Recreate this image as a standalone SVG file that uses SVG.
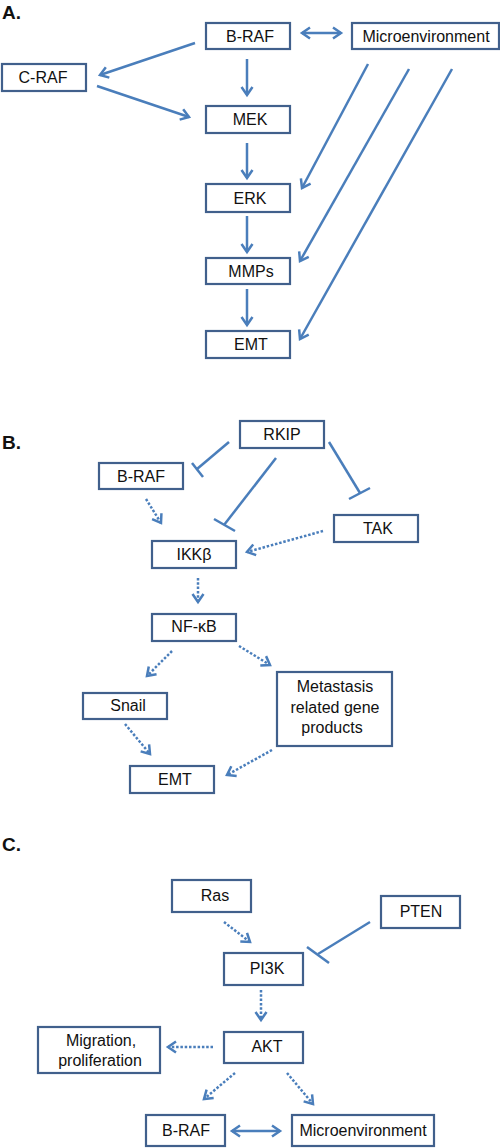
<svg xmlns="http://www.w3.org/2000/svg" width="500" height="1148" viewBox="0 0 500 1148">
<style>
.box{fill:#fff;stroke:#41608c;stroke-width:2.2}
.t{font-family:"Liberation Sans",Arial,sans-serif;font-size:16px;fill:#111;text-anchor:middle}
.lbl{font-family:"Liberation Sans",Arial,sans-serif;font-size:19px;font-weight:bold;fill:#111}
.c{fill:none;stroke:#4a7ebb;stroke-width:2.5}
.d{fill:none;stroke:#4a7ebb;stroke-width:2.5;stroke-dasharray:2.5 1.8}
.bar{fill:none;stroke:#4a7ebb;stroke-width:2.5}
</style>
<defs>
<marker id="ah" markerUnits="userSpaceOnUse" markerWidth="16" markerHeight="16" viewBox="-11 -8 14 16" refX="0" refY="0" orient="auto-start-reverse">
<path d="M-8,-5.5 L0,0 L-8,5.5" fill="none" stroke="#4a7ebb" stroke-width="2.5"/>
</marker>
</defs>
<rect width="500" height="1148" fill="#fff"/>
<text class="lbl" x="2" y="19">A.</text>
<text class="lbl" x="2" y="449">B.</text>
<text class="lbl" x="2" y="851">C.</text>

<g id="connectors">
<!-- Panel A -->
<line class="c" x1="302" y1="33" x2="341" y2="33" marker-start="url(#ah)" marker-end="url(#ah)"/>
<line class="c" x1="195" y1="43" x2="100" y2="75" marker-end="url(#ah)"/>
<line class="c" x1="97" y1="86" x2="189" y2="117" marker-end="url(#ah)"/>
<line class="c" x1="247" y1="59" x2="247" y2="95" marker-end="url(#ah)"/>
<line class="c" x1="247" y1="143" x2="247" y2="178" marker-end="url(#ah)"/>
<line class="c" x1="247" y1="216" x2="247" y2="252" marker-end="url(#ah)"/>
<line class="c" x1="247" y1="289" x2="247" y2="325" marker-end="url(#ah)"/>
<line class="c" x1="368" y1="64" x2="302" y2="188" marker-end="url(#ah)"/>
<line class="c" x1="409" y1="69" x2="300" y2="261" marker-end="url(#ah)"/>
<line class="c" x1="452" y1="69" x2="300" y2="339" marker-end="url(#ah)"/>
<!-- Panel B -->
<line class="c" x1="229" y1="442" x2="197" y2="469"/>
<line class="bar" x1="192" y1="463" x2="203" y2="477"/>
<line class="c" x1="276" y1="458" x2="224" y2="525"/>
<line class="bar" x1="214" y1="519" x2="235" y2="531"/>
<line class="c" x1="329" y1="442" x2="360" y2="493"/>
<line class="bar" x1="349" y1="499" x2="370" y2="488"/>
<line class="d" x1="146" y1="499" x2="161" y2="523" marker-end="url(#ah)"/>
<line class="d" x1="323" y1="531" x2="247" y2="552" marker-end="url(#ah)"/>
<line class="d" x1="198" y1="578" x2="198" y2="602" marker-end="url(#ah)"/>
<line class="d" x1="172" y1="651" x2="147" y2="676" marker-end="url(#ah)"/>
<line class="d" x1="239" y1="646" x2="270" y2="665" marker-end="url(#ah)"/>
<line class="d" x1="125" y1="724" x2="150" y2="754" marker-end="url(#ah)"/>
<line class="d" x1="272" y1="750" x2="227" y2="775" marker-end="url(#ah)"/>
<!-- Panel C -->
<line class="d" x1="224" y1="922" x2="250" y2="942" marker-end="url(#ah)"/>
<line class="c" x1="370" y1="922" x2="318" y2="954"/>
<line class="bar" x1="307" y1="947" x2="329" y2="963"/>
<line class="d" x1="261" y1="990" x2="261" y2="1020" marker-end="url(#ah)"/>
<line class="d" x1="213" y1="1047" x2="168" y2="1047" marker-end="url(#ah)"/>
<line class="d" x1="235" y1="1073" x2="204" y2="1099" marker-end="url(#ah)"/>
<line class="d" x1="287" y1="1073" x2="313" y2="1104" marker-end="url(#ah)"/>
<line class="c" x1="232" y1="1131" x2="280" y2="1131" marker-start="url(#ah)" marker-end="url(#ah)"/>
</g>

<!-- Panel A nodes -->
<g id="a-braf"><rect class="box" x="206" y="23" width="84" height="26"/><text class="t" x="250" y="42">B-RAF</text></g>
<g id="a-micro"><rect class="box" x="352" y="23" width="147" height="26"/><text class="t" x="426" y="42">Microenvironment</text></g>
<g id="a-craf"><rect class="box" x="2" y="64" width="84" height="27"/><text class="t" x="43" y="83">C-RAF</text></g>
<g id="a-mek"><rect class="box" x="206" y="106" width="84" height="27"/><text class="t" x="250" y="125">MEK</text></g>
<g id="a-erk"><rect class="box" x="206" y="184" width="84" height="28"/><text class="t" x="250" y="203.5">ERK</text></g>
<g id="a-mmps"><rect class="box" x="206" y="258" width="84" height="26"/><text class="t" x="251" y="277">MMPs</text></g>
<g id="a-emt"><rect class="box" x="206" y="331" width="84" height="27"/><text class="t" x="251" y="350">EMT</text></g>

<!-- Panel B nodes -->
<g id="b-rkip"><rect class="box" x="240" y="421" width="84" height="27"/><text class="t" x="282" y="440">RKIP</text></g>
<g id="b-braf"><rect class="box" x="99" y="463" width="84" height="26"/><text class="t" x="141" y="482">B-RAF</text></g>
<g id="b-tak"><rect class="box" x="334" y="515" width="84" height="27"/><text class="t" x="378" y="534">TAK</text></g>
<g id="b-ikk"><rect class="box" x="152" y="541" width="84" height="27"/><text class="t" x="194" y="560">IKKβ</text></g>
<g id="b-nfkb"><rect class="box" x="152" y="614" width="84" height="27"/><text class="t" x="194" y="632">NF-κB</text></g>
<g id="b-snail"><rect class="box" x="83" y="693" width="84" height="26"/><text class="t" x="128" y="711">Snail</text></g>
<g id="b-meta"><rect class="box" x="277" y="672" width="115" height="74"/><text class="t" x="335" y="692">Metastasis</text><text class="t" x="335" y="712.5">related gene</text><text class="t" x="332" y="733">products</text></g>
<g id="b-emt"><rect class="box" x="130" y="766" width="84" height="27"/><text class="t" x="175" y="785">EMT</text></g>

<!-- Panel C nodes -->
<g id="c-ras"><rect class="box" x="172" y="880" width="79" height="32"/><text class="t" x="215" y="901">Ras</text></g>
<g id="c-pten"><rect class="box" x="381" y="896" width="79" height="32"/><text class="t" x="421" y="917">PTEN</text></g>
<g id="c-pi3k"><rect class="box" x="224" y="953" width="79" height="32"/><text class="t" x="267" y="974">PI3K</text></g>
<g id="c-akt"><rect class="box" x="224" y="1032" width="79" height="31"/><text class="t" x="267" y="1052">AKT</text></g>
<g id="c-mig"><rect class="box" x="38" y="1027" width="122" height="46"/><text class="t" x="101" y="1046">Migration,</text><text class="t" x="100" y="1066">proliferation</text></g>
<g id="c-braf"><rect class="box" x="146" y="1115" width="79" height="31"/><text class="t" x="186" y="1136">B-RAF</text></g>
<g id="c-micro"><rect class="box" x="292" y="1115" width="142" height="31"/><text class="t" x="363" y="1136">Microenvironment</text></g>
</svg>
